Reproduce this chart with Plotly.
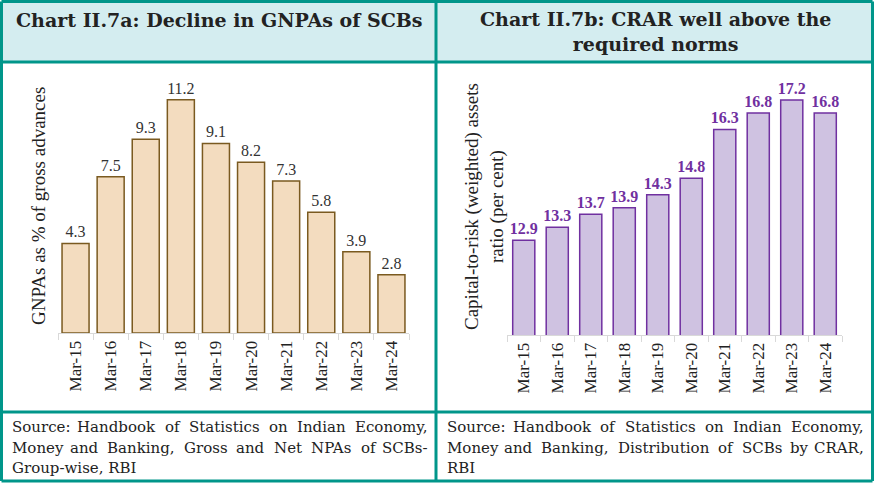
import plotly.graph_objects as go

W, H = 874, 483

categories = ["Mar-15", "Mar-16", "Mar-17", "Mar-18", "Mar-19",
              "Mar-20", "Mar-21", "Mar-22", "Mar-23", "Mar-24"]
gnpa = [4.3, 7.5, 9.3, 11.2, 9.1, 8.2, 7.3, 5.8, 3.9, 2.8]
crar = [12.9, 13.3, 13.7, 13.9, 14.3, 14.8, 16.3, 16.8, 17.2, 16.8]

title_a = "Chart II.7a: Decline in GNPAs of SCBs"
title_b = "Chart II.7b: CRAR well above the<br>required norms"
ytitle_a = "GNPAs as % of gross advances"
ytitle_b = "Capital-to-risk (weighted) assets<br>ratio (per cent)"
source_a = ["Source: Handbook of Statistics on Indian Economy,",
            "Money and Banking, Gross and Net NPAs of SCBs-",
            "Group-wise, RBI"]
source_b = ["Source: Handbook of Statistics on Indian Economy,",
            "Money and Banking, Distribution of SCBs by CRAR,",
            "RBI"]

def px(x):
    return x / W

def py(y):
    return 1 - y / H

TEAL = "#00968a"
HEADER = "#d4edf0"
SERIF = "Liberation Serif"
WIDE = "DejaVu Serif"

fig = go.Figure()

fig.add_trace(go.Bar(
    x=categories, y=gnpa, xaxis="x", yaxis="y",
    marker=dict(color="#f3dcbf", line=dict(color="#7a5a20", width=1.5)),
    width=0.77,
    text=[f"{v:.1f}" for v in gnpa], textposition="outside",
    constraintext="none",
    textfont=dict(family=SERIF, size=16, color="#333333"),
    cliponaxis=False, showlegend=False, hoverinfo="x+y",
))
fig.add_trace(go.Bar(
    x=categories, y=crar, xaxis="x2", yaxis="y2",
    marker=dict(color="#cfc2e1", line=dict(color="#7030a0", width=1.5)),
    width=0.66,
    text=[f"<b>{v:.1f}</b>" for v in crar], textposition="outside",
    constraintext="none",
    textfont=dict(family=SERIF, size=16, color="#7030a0"),
    cliponaxis=False, showlegend=False, hoverinfo="x+y",
))

axis_common = dict(
    showgrid=False, showline=True, linecolor="#d9d9d9", linewidth=1,
    ticks="outside", tickson="boundaries", ticklen=6, tickcolor="#d9d9d9",
    tickangle=-90, tickfont=dict(family=SERIF, size=17, color="#222222"),
    fixedrange=True,
)

fig.update_layout(
    width=W, height=H,
    margin=dict(l=0, r=0, t=0, b=0),
    paper_bgcolor="white", plot_bgcolor="rgba(0,0,0,0)",
    xaxis=dict(domain=[px(58), px(409)], anchor="y", **axis_common),
    yaxis=dict(domain=[py(333), py(83)], range=[0, 12], visible=False,
               fixedrange=True),
    xaxis2=dict(domain=[px(507), px(842)], anchor="y2", **axis_common),
    yaxis2=dict(domain=[py(335), py(87)], range=[10, 17.6], visible=False,
                fixedrange=True),
)

shapes = []
shapes.append(dict(type="rect", xref="paper", yref="paper",
                   x0=px(2), x1=px(436), y0=py(62), y1=py(2),
                   fillcolor=HEADER, line=dict(width=0), layer="below"))
shapes.append(dict(type="rect", xref="paper", yref="paper",
                   x0=px(436), x1=px(872), y0=py(62), y1=py(2),
                   fillcolor=HEADER, line=dict(width=0), layer="below"))

def line(x0, y0, x1, y1):
    shapes.append(dict(type="line", xref="paper", yref="paper",
                       x0=px(x0), y0=py(y0), x1=px(x1), y1=py(y1),
                       line=dict(color=TEAL, width=3)))

line(1.5, 1.5, 872.5, 1.5)
line(1.5, 481, 872.5, 481)
line(1.5, 1.5, 1.5, 481)
line(872.5, 1.5, 872.5, 481)
line(436, 1.5, 436, 481)
line(1.5, 62, 872.5, 62)
line(1.5, 412, 872.5, 412)

annotations = []
annotations.append(dict(text=f"<b>{title_a}</b>", x=px(219), y=py(20),
                        xref="paper", yref="paper", showarrow=False,
                        xanchor="center", yanchor="middle",
                        font=dict(family=WIDE, size=19, color="#222222")))
annotations.append(dict(text=f"<b>{title_b}</b>", x=px(655), y=py(32),
                        xref="paper", yref="paper", showarrow=False,
                        xanchor="center", yanchor="middle",
                        font=dict(family=WIDE, size=19, color="#222222")))
annotations.append(dict(text=ytitle_a, x=px(38), y=py(206),
                        xref="paper", yref="paper", showarrow=False,
                        textangle=-90, xanchor="center", yanchor="middle",
                        font=dict(family=SERIF, size=19, color="#222222")))
annotations.append(dict(text=ytitle_b, x=px(484), y=py(207),
                        xref="paper", yref="paper", showarrow=False,
                        textangle=-90, xanchor="center", yanchor="middle",
                        font=dict(family=SERIF, size=19, color="#222222")))

# approximate DejaVu Serif advance widths (em) for justified source text
CW = {'a': .596, 'b': .640, 'c': .560, 'd': .640, 'e': .592, 'f': .370,
      'g': .640, 'h': .644, 'i': .320, 'j': .310, 'k': .606, 'l': .320,
      'm': .948, 'n': .644, 'o': .602, 'p': .640, 'q': .640, 'r': .478,
      's': .513, 't': .402, 'u': .644, 'v': .565, 'w': .856, 'x': .564,
      'y': .565, 'z': .527, ',': .318, ':': .337, '-': .338, '.': .318}
CU = {'A': .722, 'B': .732, 'C': .729, 'D': .830, 'E': .733, 'G': .775,
      'H': .872, 'I': .402, 'M': .995, 'N': .837, 'P': .676, 'R': .745,
      'S': .685}

def wwidth(word, size):
    return sum(CW.get(c, CU.get(c, .7)) for c in word) * size

SRC_SIZE = 15

def add_source(lines, left, right):
    for i, ln in enumerate(lines):
        yy = 427 + i * 20.5
        last = i == len(lines) - 1
        words = ln.split(" ")
        if last or len(words) == 1:
            annotations.append(dict(text=ln, x=px(left), y=py(yy),
                                    xref="paper", yref="paper",
                                    showarrow=False, xanchor="left",
                                    yanchor="middle",
                                    font=dict(family=WIDE, size=SRC_SIZE,
                                              color="#222222")))
            continue
        widths = [wwidth(w, SRC_SIZE) for w in words]
        gap = (right - left - sum(widths)) / (len(words) - 1)
        xcur = left
        for j, (w, wd) in enumerate(zip(words, widths)):
            if j == 0:
                xa, xx = "left", left
            elif j == len(words) - 1:
                xa, xx = "right", right
            else:
                xa, xx = "center", xcur + wd / 2
            annotations.append(dict(text=w, x=px(xx), y=py(yy),
                                    xref="paper", yref="paper",
                                    showarrow=False, xanchor=xa,
                                    yanchor="middle",
                                    font=dict(family=WIDE, size=SRC_SIZE,
                                              color="#222222")))
            xcur += wd + gap

add_source(source_a, 10, 430)
add_source(source_b, 445, 866)

fig.update_layout(shapes=shapes, annotations=annotations)

fig.write_html("out.html", config={"displayModeBar": False})
